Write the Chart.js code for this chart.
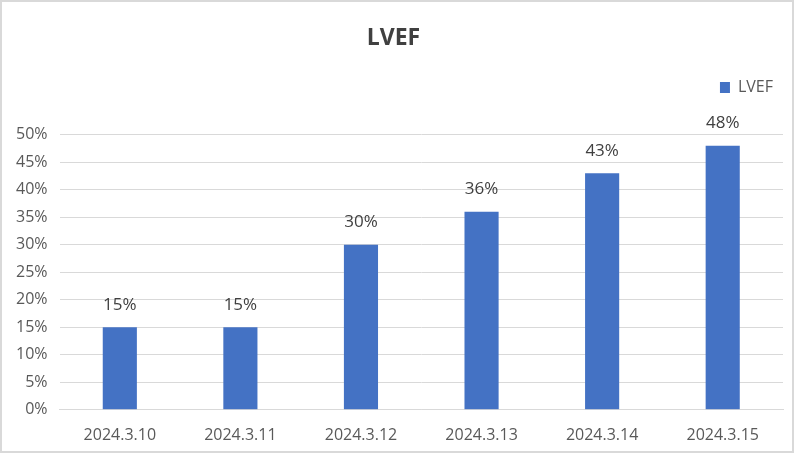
<!DOCTYPE html>
<html>
<head>
<meta charset="utf-8">
<script src="https://cdn.jsdelivr.net/npm/chart.js@4.4.1/dist/chart.umd.min.js"></script>
<style>
  body { margin: 0; background: #fff; }
  #wrap { width: 794px; height: 453px; box-sizing: border-box; border: 2px solid #d9d9d9; background: #fff; }
</style>
</head>
<body>
<div id="wrap"><canvas id="lvefChart" width="790" height="449"></canvas></div>
<script>
// data
const dates = ['2024.3.10', '2024.3.11', '2024.3.12', '2024.3.13', '2024.3.14', '2024.3.15'];
const lvef = [0.15, 0.15, 0.30, 0.36, 0.43, 0.48];
const yTicks = [0, 0.05, 0.10, 0.15, 0.20, 0.25, 0.30, 0.35, 0.40, 0.45, 0.50];

const pct = v => Math.round(v * 100) + '%';

// draw value labels above each bar
const barLabels = {
    id: 'barLabels',
    afterDatasetsDraw(chart) {
        const ctx = chart.ctx;
        const meta = chart.getDatasetMeta(0);
        ctx.save();
        ctx.font = '17px "Open Sans"';
        ctx.fillStyle = '#404040';
        ctx.textAlign = 'center';
        ctx.textBaseline = 'bottom';
        meta.data.forEach((bar, i) => {
            ctx.fillText(pct(lvef[i]), bar.x, bar.y - 14);
        });
        ctx.restore();
    }
};

const lvefChart = new Chart(document.getElementById('lvefChart'), {
    type: 'bar',
    data: {
        labels: dates,
        datasets: [{
            label: 'LVEF',
            data: lvef,
            backgroundColor: '#4472c4',
            barPercentage: 0.283,
            categoryPercentage: 1
        }]
    },
    options: {
        responsive: false,
        animation: false,
        layout: { padding: { left: 2, right: 9, top: 0, bottom: -2 } },
        plugins: {
            title: {
                display: true,
                text: 'LVEF',
                color: '#404040',
                font: { family: '"Open Sans"', size: 23, weight: 'bold' },
                padding: { top: 23, bottom: 17 }
            },
            // empty spacer between legend and plot
            subtitle: {
                display: true,
                text: '',
                weight: 500,
                font: { size: 1 },
                padding: { top: 0, bottom: 28 }
            },
            legend: {
                display: true,
                align: 'end',
                labels: {
                    color: '#595959',
                    font: { family: '"Open Sans"', size: 16 },
                    boxWidth: 10,
                    boxHeight: 11,
                    padding: 10
                }
            },
            tooltip: { enabled: false }
        },
        scales: {
            x: {
                grid: { display: false },
                border: { display: true, color: '#d9d9d9', width: 1 },
                ticks: {
                    color: '#595959',
                    font: { family: '"Open Sans"', size: 16 },
                    padding: 8,
                    maxRotation: 0
                }
            },
            y: {
                min: 0,
                max: 0.5,
                afterBuildTicks: axis => { axis.ticks = yTicks.map(v => ({ value: v })); },
                grid: { color: '#d9d9d9', lineWidth: 1, drawTicks: false },
                border: { display: false },
                ticks: {
                    color: '#595959',
                    font: { family: '"Open Sans"', size: 16 },
                    padding: 12,
                    callback: v => pct(v)
                }
            }
        }
    },
    plugins: [barLabels]
});
</script>
</body>
</html>
